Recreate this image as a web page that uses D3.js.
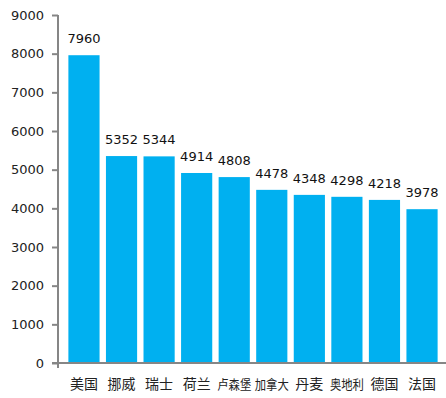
<!DOCTYPE html>
<html>
<head>
<meta charset="utf-8">
<script src="https://cdn.jsdelivr.net/npm/d3@7"></script>
<style>
  body { margin: 0; background: #fff; }
  svg { display: block; }
</style>
</head>
<body>
<svg id="chart"></svg>
<script>
// chart data
var countries = ["美国", "挪威", "瑞士", "荷兰", "卢森堡", "加拿大", "丹麦", "奥地利", "德国", "法国"];
var values = [7960, 5352, 5344, 4914, 4808, 4478, 4348, 4298, 4218, 3978];
var yTicks = [0, 1000, 2000, 3000, 4000, 5000, 6000, 7000, 8000, 9000];

var width = 446, height = 398;
var axisX = 58, baseY = 363, topY = 15;

var svg = d3.select("#chart")
  .attr("width", width)
  .attr("height", height);

var x = d3.scaleBand()
  .domain(countries)
  .range([62, 444])
  .paddingInner(0.17)
  .paddingOuter(0.17);

var y = d3.scaleLinear()
  .domain([0, 9000])
  .range([baseY, topY]);

var data = countries.map(function (c, i) { return { name: c, value: values[i] }; });

// bars
svg.selectAll(".bar")
  .data(data)
  .enter()
  .append("rect")
  .attr("class", "bar")
  .attr("x", function (d) { return x(d.name); })
  .attr("y", function (d) { return y(d.value); })
  .attr("width", x.bandwidth())
  .attr("height", function (d) { return baseY - y(d.value); })
  .attr("fill", "#00B0F0");

// value labels
svg.selectAll(".val")
  .data(data)
  .enter()
  .append("text")
  .attr("class", "val")
  .attr("x", function (d) { return x(d.name) + x.bandwidth() / 2; })
  .attr("y", function (d) { return y(d.value) - 12; })
  .attr("text-anchor", "middle")
  .attr("font-family", "DejaVu Sans, sans-serif")
  .attr("font-size", "13px")
  .attr("fill", "#111")
  .text(function (d) { return d.value; });

// y axis
var yAxis = d3.axisLeft(y).tickValues(yTicks).tickFormat(d3.format("d")).tickSize(6).tickPadding(8);
var gy = svg.append("g")
  .attr("transform", "translate(" + axisX + ",0)")
  .call(yAxis);
gy.select(".domain").attr("stroke", "#868686").attr("stroke-width", 2)
  .attr("d", "M0," + topY + "V" + baseY);
gy.selectAll(".tick line").attr("stroke", "#868686").attr("stroke-width", 2);
gy.selectAll(".tick text")
  .attr("font-family", "DejaVu Sans, sans-serif")
  .attr("font-size", "13px")
  .attr("fill", "#222");

// x axis line
svg.append("line")
  .attr("x1", axisX - 6).attr("x2", width)
  .attr("y1", baseY).attr("y2", baseY)
  .attr("stroke", "#868686").attr("stroke-width", 2);
svg.append("line")
  .attr("x1", axisX).attr("x2", axisX)
  .attr("y1", baseY).attr("y2", baseY + 5)
  .attr("stroke", "#868686").attr("stroke-width", 2);

// category labels; longer names squeezed into their slot
var cats = svg.selectAll(".cat")
  .data(data)
  .enter()
  .append("text")
  .attr("class", "cat")
  .attr("x", function (d) { return x(d.name) + x.bandwidth() / 2; })
  .attr("text-anchor", "middle")
  .attr("y", 389)
  .attr("font-family", "Noto Sans CJK SC, sans-serif")
  .attr("font-size", "14px")
  .attr("fill", "#222")
  .text(function (d) { return d.name; });

cats.filter(function (d) { return d.name.length > 2; })
  .attr("font-size", "13px")
  .attr("textLength", 34)
  .attr("lengthAdjust", "spacingAndGlyphs");
</script>
</body>
</html>
